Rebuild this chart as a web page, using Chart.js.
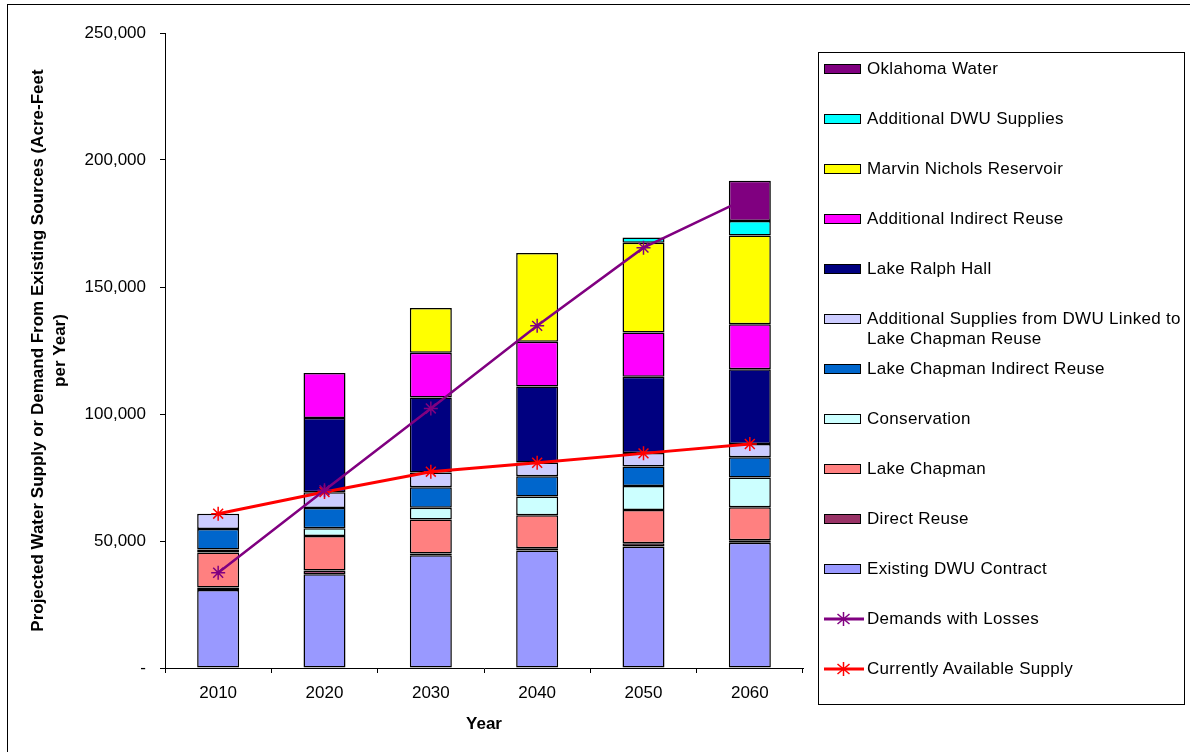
<!DOCTYPE html>
<html>
<head>
<meta charset="utf-8">
<title>Projected Water Supply</title>
<script src="https://cdn.jsdelivr.net/npm/chart.js@4.4.1/dist/chart.umd.min.js"></script>
<style>
  html, body { margin: 0; padding: 0; background: #fff; }
  #wrap { position: relative; width: 1190px; height: 752px; overflow: hidden; font-family: "Liberation Sans", Arial, sans-serif; }
  #frame { position: absolute; left: 7px; top: 4px; width: 1300px; height: 900px; border: 1px solid #000; pointer-events: none; }
  #chart { position: absolute; left: 0; top: 0; }
  #legend { position: absolute; left: 818px; top: 52px; width: 365px; height: 651px; border: 1px solid #000; background: #fff; }
  .item { position: absolute; left: 0; width: 365px; height: 20px; }
  .swatch { position: absolute; left: 5px; top: 5px; width: 35px; height: 8px; border: 1px solid #000; }
  .mark { position: absolute; left: 5px; top: 3px; }
  .label { position: absolute; left: 48px; top: 0; width: 325px; font-size: 17px; letter-spacing: 0.3px; line-height: 20px; color: #000; }
</style>
</head>
<body>
<div id="wrap">
  <canvas id="chart" width="1190" height="752"></canvas>
  <div id="frame"></div>
  <div id="legend"></div>
</div>
<script>
// Datos (acre-pies por año)
const years = ['2010', '2020', '2030', '2040', '2050', '2060'];

const existingDwu = [30700, 36900, 44400, 46300, 47800, 49300];
const directReuse = [1000, 1500, 700, 800, 1300, 1000];
const lakeChapman = [13800, 13600, 13400, 13000, 13100, 13000];
const conservation = [1200, 3000, 4600, 7400, 9500, 11700];
const chapmanIndirect = [8000, 8000, 8100, 8000, 7600, 8000];
const dwuLinkedChapman = [6000, 6200, 5800, 5400, 5300, 5200];
const ralphHall = [0, 29200, 29500, 29900, 30100, 29400];
const addIndirectReuse = [0, 17700, 17600, 17600, 17400, 17700];
const marvinNichols = [0, 0, 17600, 35000, 35300, 35000];
const addDwuSupplies = [0, 0, 0, 0, 2100, 5700];
const oklahomaWater = [0, 0, 0, 0, 0, 15800];

const demandsWithLosses = [37500, 70000, 102200, 134700, 165500, 185500];
const availableSupply = [60750, 69300, 77300, 80800, 84500, 88200];

const yTicks = [0, 50000, 100000, 150000, 200000, 250000];

// Series de barras, de abajo hacia arriba
const barSeries = [
    { label: 'Existing DWU Contract', data: existingDwu, color: '#9999FF' },
    { label: 'Direct Reuse', data: directReuse, color: '#993366' },
    { label: 'Lake Chapman', data: lakeChapman, color: '#FF8080' },
    { label: 'Conservation', data: conservation, color: '#CCFFFF' },
    { label: 'Lake Chapman Indirect Reuse', data: chapmanIndirect, color: '#0066CC' },
    { label: 'Additional Supplies from DWU Linked to Lake Chapman Reuse', data: dwuLinkedChapman, color: '#CCCCFF' },
    { label: 'Lake Ralph Hall', data: ralphHall, color: '#000080' },
    { label: 'Additional Indirect Reuse', data: addIndirectReuse, color: '#FF00FF' },
    { label: 'Marvin Nichols Reservoir', data: marvinNichols, color: '#FFFF00' },
    { label: 'Additional DWU Supplies', data: addDwuSupplies, color: '#00FFFF' },
    { label: 'Oklahoma Water', data: oklahomaWater, color: '#800080' }
];

const lineSeries = [
    { label: 'Demands with Losses', data: demandsWithLosses, color: '#800080', width: 2.5 },
    { label: 'Currently Available Supply', data: availableSupply, color: '#FF0000', width: 3 }
];

const FONT = '"Liberation Sans", Arial, sans-serif';
Chart.defaults.font.family = FONT;
Chart.defaults.color = '#000';

const datasets = [];
lineSeries.forEach(function(s) {
    datasets.push({
        type: 'line',
        label: s.label,
        data: s.data,
        stack: s.label,
        order: 0,
        borderColor: s.color,
        backgroundColor: s.color,
        borderWidth: s.width,
        tension: 0,
        fill: false,
        pointStyle: 'star',
        pointRadius: 7,
        pointBorderWidth: 1.5,
        pointBorderColor: s.color,
        pointBackgroundColor: s.color
    });
});
barSeries.forEach(function(s) {
    datasets.push({
        type: 'bar',
        label: s.label,
        data: s.data,
        stack: 'supply',
        order: 1,
        backgroundColor: s.color,
        borderColor: '#000',
        borderWidth: 1.5,
        borderSkipped: false,
        barPercentage: 0.395,
        categoryPercentage: 1
    });
});

const ctx = document.getElementById('chart').getContext('2d');
const chart = new Chart(ctx, {
    type: 'bar',
    data: { labels: years, datasets: datasets },
    options: {
        responsive: false,
        animation: false,
        layout: { padding: { top: 33, right: 387, bottom: 0, left: 0 } },
        plugins: {
            legend: { display: false },
            tooltip: { enabled: false }
        },
        scales: {
            x: {
                stacked: true,
                grid: { display: true, drawOnChartArea: false, tickLength: 5, color: '#000' },
                border: { color: '#000', width: 1 },
                ticks: { font: { size: 17 }, padding: 10 },
                title: {
                    display: true,
                    text: 'Year',
                    font: { size: 17, weight: 'bold' },
                    padding: { top: 0, bottom: 17 }
                },
                afterFit: function(scale) { scale.height = 84; }
            },
            y: {
                stacked: true,
                min: 0,
                max: 250000,
                afterBuildTicks: function(scale) {
                    scale.ticks = yTicks.map(function(v) { return { value: v }; });
                },
                grid: { display: true, drawOnChartArea: false, tickLength: 5, color: '#000' },
                border: { color: '#000', width: 1 },
                ticks: {
                    font: { size: 17 },
                    padding: 14,
                    callback: function(v) { return v === 0 ? '-' : v.toLocaleString('en-US'); }
                },
                title: {
                    display: true,
                    text: ['Projected Water Supply or Demand From Existing Sources (Acre-Feet', 'per Year)'],
                    font: { size: 17, weight: 'bold', lineHeight: 1.294 },
                    padding: { top: 27, bottom: 0 }
                },
                afterFit: function(scale) { scale.width = 165; }
            }
        }
    }
});

// Leyenda en HTML, construida desde las series del grafico
function buildLegend() {
    const legend = document.getElementById('legend');
    const entries = barSeries.slice().reverse().map(function(s) { return { label: s.label, color: s.color, kind: 'box' }; })
        .concat(lineSeries.map(function(s) { return { label: s.label, color: s.color, kind: 'line' }; }));
    entries.forEach(function(e, i) {
        const item = document.createElement('div');
        item.className = 'item';
        item.style.top = (6 + 50 * i) + 'px';
        let mark;
        if (e.kind === 'box') {
            mark = '<span class="swatch" style="background:' + e.color + '"></span>';
        } else {
            mark = '<svg class="mark" width="40" height="14">' +
                '<line x1="0" y1="7" x2="40" y2="7" stroke="' + e.color + '" stroke-width="3"/>' +
                '<line x1="19.5" y1="0" x2="19.5" y2="14" stroke="' + e.color + '" stroke-width="1.5"/>' +
                '<line x1="13.5" y1="2" x2="25.5" y2="12" stroke="' + e.color + '" stroke-width="1.5"/>' +
                '<line x1="13.5" y1="12" x2="25.5" y2="2" stroke="' + e.color + '" stroke-width="1.5"/>' +
                '</svg>';
        }
        item.innerHTML = mark + '<span class="label">' + e.label + '</span>';
        legend.appendChild(item);
    });
}
buildLegend();
</script>
</body>
</html>
